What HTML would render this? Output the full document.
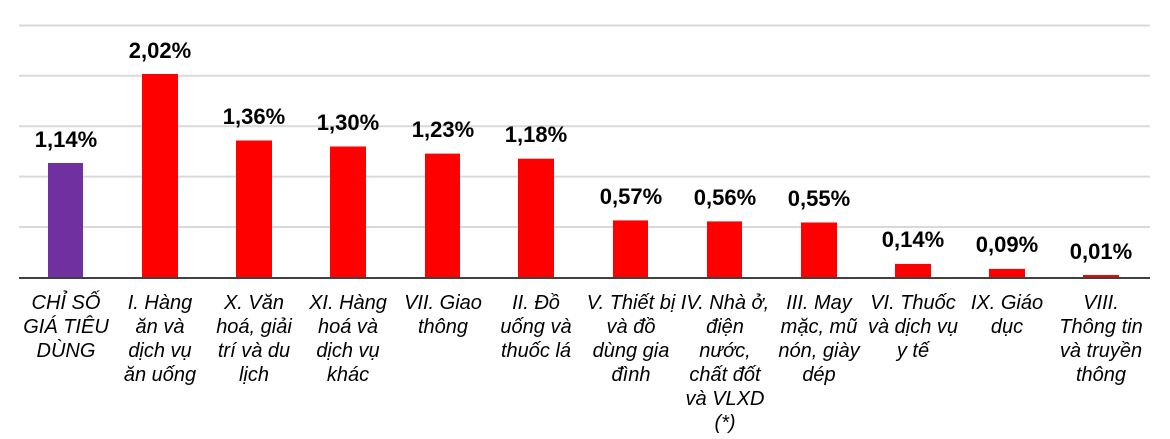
<!DOCTYPE html>
<html><head><meta charset="utf-8"><style>
html,body{margin:0;padding:0;background:#fff;}
svg{display:block;}
.v{font-family:"Liberation Sans",sans-serif;font-weight:bold;font-size:22px;fill:#000;text-anchor:middle;}
.c{font-family:"Liberation Sans",sans-serif;font-style:italic;font-size:20px;fill:#000;text-anchor:middle;}
</style></head><body>
<svg width="1170" height="439" viewBox="0 0 1170 439" xmlns="http://www.w3.org/2000/svg">
<g stroke="#d9d9d9" stroke-width="2">
<line x1="19" x2="1150" y1="25.5" y2="25.5"/>
<line x1="19" x2="1150" y1="75.8" y2="75.8"/>
<line x1="19" x2="1150" y1="126.2" y2="126.2"/>
<line x1="19" x2="1150" y1="176.6" y2="176.6"/>
<line x1="19" x2="1150" y1="227" y2="227"/>
</g>
<g fill="#ff0000">
<rect x="48" y="163" width="35" height="115" fill="#7030a0"/>
<rect x="142" y="74" width="36" height="204"/>
<rect x="236" y="140.5" width="36" height="137.5"/>
<rect x="330" y="146.5" width="36" height="131.5"/>
<rect x="425" y="153.6" width="35" height="124.4"/>
<rect x="518" y="158.7" width="36" height="119.3"/>
<rect x="613" y="220.4" width="35" height="57.6"/>
<rect x="707" y="221.4" width="35" height="56.6"/>
<rect x="801" y="222.5" width="36" height="55.5"/>
<rect x="895" y="263.9" width="36" height="14.1"/>
<rect x="989" y="268.9" width="36" height="9.1"/>
<rect x="1083" y="275" width="36" height="3"/>
</g>
<line x1="19" x2="1150" y1="278" y2="278" stroke="#404040" stroke-width="2"/>
<g class="v">
<text x="66" y="147">1,14%</text>
<text x="160" y="58">2,02%</text>
<text x="254" y="124">1,36%</text>
<text x="348" y="130">1,30%</text>
<text x="443" y="137">1,23%</text>
<text x="536" y="142">1,18%</text>
<text x="631" y="204">0,57%</text>
<text x="725" y="205">0,56%</text>
<text x="819" y="206">0,55%</text>
<text x="913" y="247">0,14%</text>
<text x="1007" y="252">0,09%</text>
<text x="1101" y="259">0,01%</text>
</g>
<g class="c">
<text x="66" y="309">CHỈ SỐ<tspan x="66" dy="24">GIÁ TIÊU</tspan><tspan x="66" dy="24">DÙNG</tspan></text>
<text x="160" y="309">I. Hàng<tspan x="160" dy="24">ăn và</tspan><tspan x="160" dy="24">dịch vụ</tspan><tspan x="160" dy="24">ăn uống</tspan></text>
<text x="254" y="309">X. Văn<tspan x="254" dy="24">hoá, giải</tspan><tspan x="254" dy="24">trí và du</tspan><tspan x="254" dy="24">lịch</tspan></text>
<text x="348" y="309">XI. Hàng<tspan x="348" dy="24">hoá và</tspan><tspan x="348" dy="24">dịch vụ</tspan><tspan x="348" dy="24">khác</tspan></text>
<text x="443" y="309">VII. Giao<tspan x="443" dy="24">thông</tspan></text>
<text x="536" y="309">II. Đồ<tspan x="536" dy="24">uống và</tspan><tspan x="536" dy="24">thuốc lá</tspan></text>
<text x="631" y="309">V. Thiết bị<tspan x="631" dy="24">và đồ</tspan><tspan x="631" dy="24">dùng gia</tspan><tspan x="631" dy="24">đình</tspan></text>
<text x="725" y="309">IV. Nhà ở,<tspan x="725" dy="24">điện</tspan><tspan x="725" dy="24">nước,</tspan><tspan x="725" dy="24">chất đốt</tspan><tspan x="725" dy="24">và VLXD</tspan><tspan x="725" dy="24">(*)</tspan></text>
<text x="819" y="309">III. May<tspan x="819" dy="24">mặc, mũ</tspan><tspan x="819" dy="24">nón, giày</tspan><tspan x="819" dy="24">dép</tspan></text>
<text x="913" y="309">VI. Thuốc<tspan x="913" dy="24">và dịch vụ</tspan><tspan x="913" dy="24">y tế</tspan></text>
<text x="1007" y="309">IX. Giáo<tspan x="1007" dy="24">dục</tspan></text>
<text x="1101" y="309">VIII.<tspan x="1101" dy="24">Thông tin</tspan><tspan x="1101" dy="24">và truyền</tspan><tspan x="1101" dy="24">thông</tspan></text>
</g>
</svg>
</body></html>
